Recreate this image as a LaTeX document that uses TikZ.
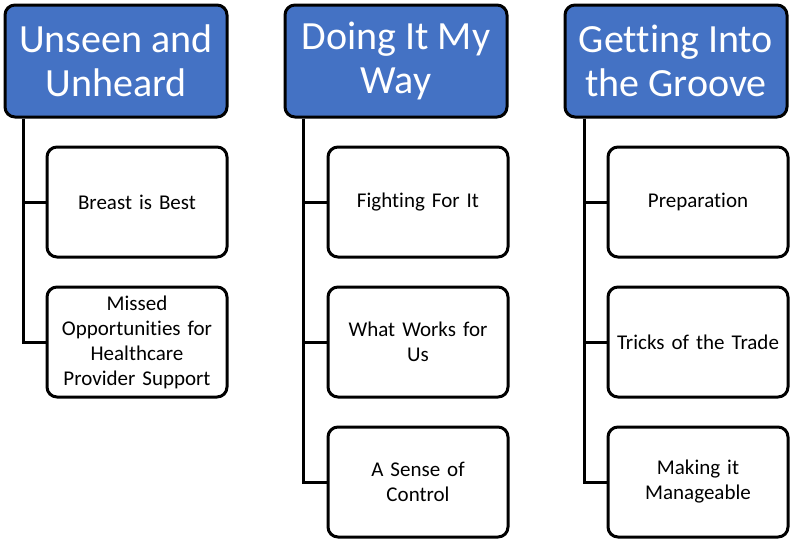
\documentclass[tikz,border=0pt]{standalone}
\usepackage{fontspec}
\setmainfont{Carlito}[Ligatures={NoCommon}]
\begin{document}
\begin{tikzpicture}[x=1pt,y=-1pt,
  head/.style={draw=black,line width=3pt,fill=headblue,rounded corners=10pt,
    minimum width=222pt,minimum height=112pt,text=white,align=center,
    font=\fontsize{40}{44}\selectfont,inner sep=0pt},
  child/.style={draw=black,line width=3pt,fill=white,rounded corners=10pt,
    minimum width=180pt,minimum height=110pt,align=center,text width=178pt,
    font=\fontsize{21}{25}\selectfont,inner sep=0pt},
  conn/.style={draw=black,line width=3pt}]
\definecolor{headblue}{HTML}{4472C4}
\useasboundingbox (0,0) rectangle (794,541);
% headers
\node[head] (h1) at (116,61) {Unseen and\\Unheard};
\node[head] (h2) at (396,61) {Doing It My\\Way};
\node[head] (h3) at (676,61) {Getting Into\\the Groove};
% children
\node[child] (c11) at (137,202) {Breast is Best};
\node[child] (c12) at (137,342) {Missed\\Opportunities for\\Healthcare\\Provider Support};
\node[child] (c21) at (418,202) {Fighting For It};
\node[child] (c22) at (418,342) {What Works for\\Us};
\node[child] (c23) at (418,482) {A Sense of\\Control};
\node[child] (c31) at (698,202) {Preparation};
\node[child] (c32) at (698,342) {Tricks of the Trade};
\node[child] (c33) at (698,482) {Making it\\Manageable};
% connectors
\draw[conn] ([xshift=20pt]h1.south west) |- (c11.west);
\draw[conn] ([xshift=20pt]h1.south west) |- (c12.west);
\draw[conn] ([xshift=20pt]h2.south west) |- (c21.west);
\draw[conn] ([xshift=20pt]h2.south west) |- (c22.west);
\draw[conn] ([xshift=20pt]h2.south west) |- (c23.west);
\draw[conn] ([xshift=21pt]h3.south west) |- (c31.west);
\draw[conn] ([xshift=21pt]h3.south west) |- (c32.west);
\draw[conn] ([xshift=21pt]h3.south west) |- (c33.west);
\end{tikzpicture}
\end{document}
